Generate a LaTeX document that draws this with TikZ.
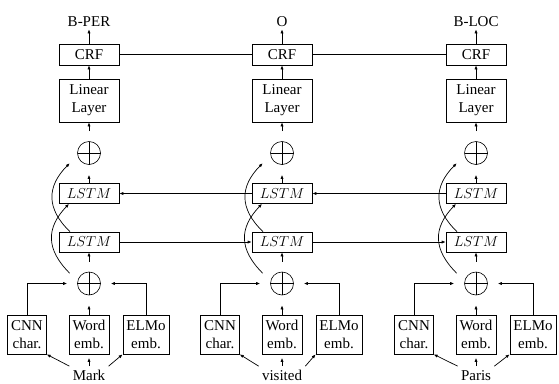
\documentclass[tikz,border=0pt]{standalone}
\usepackage{fontspec}
\setmainfont{Liberation Serif}
\usetikzlibrary{arrows.meta,calc}
\begin{document}
\begin{tikzpicture}[x=1pt,y=-1pt, line width=0.7pt,
  font=\fontsize{15}{18}\selectfont,
  box/.style={draw, inner sep=3.5pt, align=center},
  wide/.style={box, minimum width=60pt},
  emb/.style={box, minimum height=39pt},
  plusnode/.style={circle, minimum size=43pt, inner sep=0pt,
    path picture={
      \draw[line width=0.6pt] (path picture bounding box.center) circle[radius=11.5pt];
      \draw[line width=0.6pt] ([xshift=-11.5pt]path picture bounding box.center) -- ([xshift=11.5pt]path picture bounding box.center);
      \draw[line width=0.6pt] ([yshift=-11.5pt]path picture bounding box.center) -- ([yshift=11.5pt]path picture bounding box.center);
    }},
  arr/.style={-{Latex[length=4pt,width=3.2pt]}},
  lbl/.style={anchor=base, inner sep=3pt, text height=10.5pt, text depth=0pt}
]
\useasboundingbox (0,0) rectangle (559,383);
\foreach \x/\lab/\w/\i in {89/B-PER/Mark/1, 282/O/visited/2, 476/B-LOC/Paris/3}{
  \node[lbl] (lab\i) at (\x,26) {\lab};
  \node[wide, minimum height=21pt] (crf\i) at (\x,54.5) {CRF};
  \node[wide, minimum height=43pt] (lin\i) at (\x,100.5) {Linear\\Layer};
  \node[plusnode] (pu\i) at (\x,153) {};
  \node[wide, minimum height=20pt] (lu\i) at (\x,193.5) {$LSTM$};
  \node[wide, minimum height=20pt] (ll\i) at (\x,242) {$LSTM$};
  \node[plusnode] (pl\i) at (\x,283.5) {};
  \node[emb] (cnn\i) at ({\x-62},334.5) {CNN\\char.};
  \node[emb] (word\i) at (\x,334.5) {Word\\emb.};
  \node[emb] (elmo\i) at ({\x+57},334.5) {ELMo\\emb.};
  \node[lbl] (w\i) at (\x,380) {\w};
  % vertical flow
  \draw[arr] (crf\i) -- (lab\i);
  \draw[arr] (lin\i) -- (crf\i);
  \draw[arr] (pu\i) -- (lin\i);
  \draw[arr] (lu\i) -- (pu\i);
  \draw[arr] (pl\i) -- (ll\i);
  \draw[arr] (word\i) -- (pl\i);
  \draw[arr] (cnn\i.north) |- (pl\i);
  \draw[arr] (elmo\i.north) |- (pl\i);
  \draw[arr] (w\i.north west) -- (cnn\i.south east);
  \draw[arr, shorten >=3.5pt] (w\i.north) -- (word\i.south);
  \draw[arr] (w\i.north east) -- (elmo\i.south west);
  % skip connections
  \coordinate (as\i) at (pl\i.152);
  \coordinate (ae\i) at ([xshift=-20pt]lu\i.south);
  \draw[arr] (as\i) .. controls ($(as\i)+(-24,-24)$) and ($(ae\i)+(-23,24)$) .. (ae\i);
  \coordinate (bs\i) at ([xshift=-19pt]ll\i.north);
  \coordinate (be\i) at (pu\i.208);
  \draw[arr] (bs\i) .. controls ($(bs\i)+(-24,-23)$) and ($(be\i)+(-23,23)$) .. (be\i);
}
% horizontal connections
\draw (crf1) -- (crf2);
\draw (crf2) -- (crf3);
\draw[arr] (lu3) -- (lu2);
\draw[arr] (lu2) -- (lu1);
\draw[arr] (ll1) -- (ll2);
\draw[arr] (ll2) -- (ll3);
\end{tikzpicture}
\end{document}
